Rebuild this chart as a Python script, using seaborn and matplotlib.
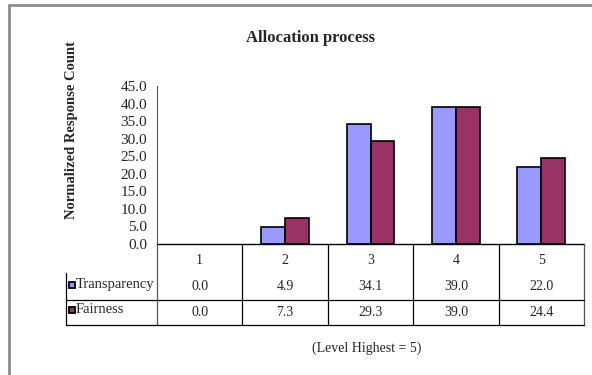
import matplotlib
matplotlib.use('Agg')
import matplotlib.pyplot as plt
from matplotlib.lines import Line2D
import numpy as np
import pandas as pd
import seaborn as sns

# Data
levels = ['1', '2', '3', '4', '5']
transparency = [0.0, 4.9, 34.1, 39.0, 22.0]
fairness = [0.0, 7.3, 29.3, 39.0, 24.4]
series_names = ['Transparency', 'Fairness']
series_colors = ['#9999FF', '#993366']
y_ticks = [0, 5, 10, 15, 20, 25, 30, 35, 40, 45]

sns.set_style('white')
plt.rcParams['font.family'] = ['Liberation Serif', 'DejaVu Serif']

df = pd.DataFrame({
    'level': levels * 2,
    'value': transparency + fairness,
    'series': [series_names[0]] * len(levels) + [series_names[1]] * len(levels),
})

W, H = 592, 375
fig = plt.figure(figsize=(W / 100, H / 100), dpi=100)

# plot area in pixel terms
x0, x1 = 157, 584
y_top, y_axis, y_tab = 86, 244, 325
ax = fig.add_axes([x0 / W, 1 - y_axis / H, (x1 - x0) / W, (y_axis - y_top) / H])

sns.barplot(data=df, x='level', y='value', hue='series', order=levels,
            hue_order=series_names, palette=series_colors, width=0.56,
            edgecolor='black', linewidth=1.2, saturation=1, ax=ax, legend=False)
# zero-height bars are not drawn in the original
for p in ax.patches:
    if p.get_height() == 0:
        p.set_visible(False)

ax.set_xlim(-0.5, len(levels) - 0.5)
ax.set_ylim(0, 45)
ax.set_yticks(y_ticks)
ax.set_yticklabels([f'{t:.1f}' for t in y_ticks], fontsize=11)
ax.set_xticks([])
ax.set_xlabel('')
ax.set_ylabel('')
for side in ['top', 'right']:
    ax.spines[side].set_visible(False)
ax.spines['left'].set_color('#555555')
ax.spines['left'].set_linewidth(0.8)
ax.spines['bottom'].set_color('black')
ax.spines['bottom'].set_linewidth(1.0)
ax.tick_params(axis='y', direction='out', length=4, width=0.8, color='#555555', pad=3)

# data table under the chart
tab = fig.add_axes([x0 / W, 1 - y_tab / H, (x1 - x0) / W, (y_tab - y_axis) / H])
tab.set_xlim(-0.5, len(levels) - 0.5)
tab.set_ylim(1, 0)
tab.axis('off')
col_w = (x1 - x0) / len(levels)
leg_left = -0.5 - (x0 - 66) / col_w
mid_line = (300 - y_axis) / (y_tab - y_axis)
leg_top = (273 - y_axis) / (y_tab - y_axis)
lkw = dict(color='black', linewidth=0.9, clip_on=False)
for i in range(len(levels) + 1):
    c = '#555555' if i in (0, len(levels)) else 'black'
    tab.plot([i - 0.5, i - 0.5], [0, 1], color=c, linewidth=0.9, clip_on=False)
tab.plot([leg_left, len(levels) - 0.5], [mid_line, mid_line], **lkw)
tab.plot([leg_left, len(levels) - 0.5], [1, 1], **lkw)
tab.plot([leg_left, leg_left], [leg_top, 1], **lkw)

row_y = [(260 - y_axis) / 81, (287 - y_axis) / 81, (312 - y_axis) / 81]
for i, lv in enumerate(levels):
    tab.text(i, row_y[0], lv, ha='center', va='center', fontsize=10)
    tab.text(i, row_y[1], f'{transparency[i]:.1f}', ha='center', va='center', fontsize=10)
    tab.text(i, row_y[2], f'{fairness[i]:.1f}', ha='center', va='center', fontsize=10)
for j, (name, col) in enumerate(zip(series_names, series_colors)):
    yy = row_y[j + 1] - 0.03
    tab.plot([leg_left + 0.068], [yy], marker='s', markersize=5, markerfacecolor=col,
             markeredgecolor='black', markeredgewidth=1.3, clip_on=False)
    tab.text(leg_left + 0.11, yy, name, ha='left', va='center', fontsize=10.5)

fig.text(311 / W, 1 - 38 / H, 'Allocation process', ha='center', va='center',
         fontsize=12, fontweight='bold')
fig.text(71 / W, 1 - 130 / H, 'Normalized Response Count', ha='center', va='center',
         rotation=90, fontsize=10.5, fontweight='bold')
fig.text(367 / W, 1 - 348 / H, '(Level Highest = 5)', ha='center', va='center', fontsize=10)

# outer frame (top and left edges visible)
fig.add_artist(Line2D([9 / W, 1], [1 - 5 / H, 1 - 5 / H], color='#8c8c8c', linewidth=2))
fig.add_artist(Line2D([9 / W, 9 / W], [0, 1 - 5 / H], color='#8c8c8c', linewidth=2))

fig.savefig('out.png', dpi=100, facecolor='white')
